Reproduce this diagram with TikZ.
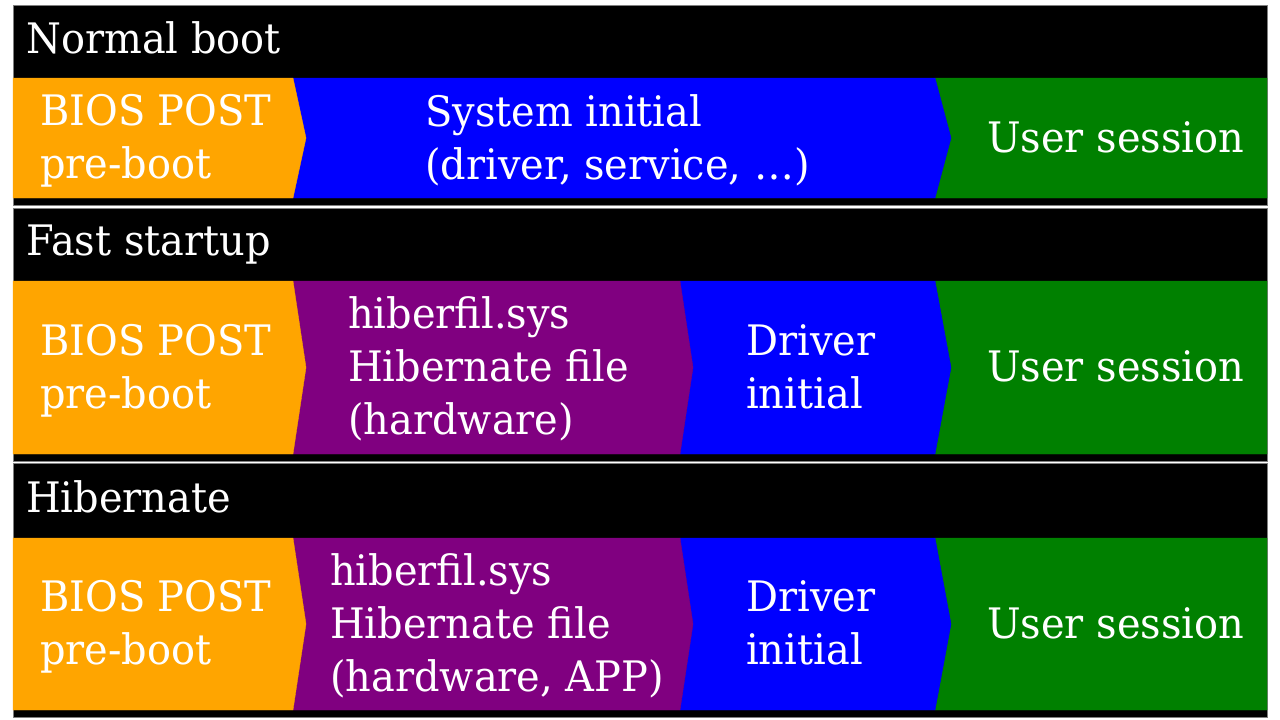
\documentclass[tikz,border=0pt]{standalone}
\usepackage{fontspec}
\setmainfont{DejaVu Serif}[FakeStretch=0.95]
\definecolor{cOrange}{HTML}{FFA500}
\definecolor{cBlue}{HTML}{0000FF}
\definecolor{cGreen}{HTML}{008000}
\definecolor{cPurple}{HTML}{800080}
\definecolor{cFrame}{HTML}{7F7F7F}
\newcommand{\chevshape}[8]{% colour, xl, notch, xr, tip, top, bottom, mid
  \filldraw[#1, line width=0.4pt] (#2,#6) -- (#4,#6) -- (#4+#5,#8) -- (#4,#7) -- (#2,#7) -- (#2+#3,#8) -- cycle;}
\tikzset{
  panelframe/.style={draw=cFrame, fill=black, line width=0.8pt},
  lbl/.style={text=white, inner sep=0pt, anchor=base west, font=\fontsize{42}{53}\selectfont},
}
\begin{document}
\begin{tikzpicture}[x=1pt,y=-1pt]
\useasboundingbox (0,0) rectangle (1280,720);
\fill[white] (0,0) rectangle (1280,720);

% ---------- Panel 1: Normal boot ----------
\draw[panelframe] (13,5) rectangle (1267,205);
\chevshape{cGreen}{935}{16}{1267}{0}{78}{198}{138}
\chevshape{cBlue}{293}{13}{935}{16}{78}{198}{138}
\chevshape{cOrange}{13}{0}{293}{13}{78}{198}{138}
\node[lbl] (t1) at (26,53) {Normal boot};
\node[lbl] (a1) at (40,125.5) {BIOS POST};
\node[lbl] (a1b) at (40,178.5) {pre-boot};
\node[lbl] (b1) at (425,126.5) {System initial};
\node[lbl] (b1b) at (425,179) {(driver, service, …)};
\node[lbl] (c1) at (987,152) {User session};

% ---------- Panel 2: Fast startup ----------
\draw[panelframe] (13,208) rectangle (1267,461);
\chevshape{cGreen}{935}{16}{1267}{0}{281}{454}{367.5}
\chevshape{cBlue}{680}{13}{935}{16}{281}{454}{367.5}
\chevshape{cPurple}{293}{13}{680}{13}{281}{454}{367.5}
\chevshape{cOrange}{13}{0}{293}{13}{281}{454}{367.5}
\node[lbl] (t2) at (26,255) {Fast startup};
\node[lbl] (a2) at (40,355) {BIOS POST};
\node[lbl] (a2b) at (40,408) {pre-boot};
\node[lbl] (p2) at (348,328.5) {hiberfil.sys};
\node[lbl] (p2b) at (348,381.5) {Hibernate file};
\node[lbl] (p2c) at (348,434.5) {(hardware)};
\node[lbl] (d2) at (746,355) {Driver};
\node[lbl] (d2b) at (746,408) {initial};
\node[lbl] (c2) at (987,381.5) {User session};

% ---------- Panel 3: Hibernate ----------
\draw[panelframe] (13,463) rectangle (1267,717);
\chevshape{cGreen}{935}{16}{1267}{0}{538}{710}{624}
\chevshape{cBlue}{680}{13}{935}{16}{538}{710}{624}
\chevshape{cPurple}{293}{13}{680}{13}{538}{710}{624}
\chevshape{cOrange}{13}{0}{293}{13}{538}{710}{624}
\node[lbl] (t3) at (26,512) {Hibernate};
\node[lbl] (a3) at (40,611.5) {BIOS POST};
\node[lbl] (a3b) at (40,664.5) {pre-boot};
\node[lbl] (p3) at (330,585) {hiberfil.sys};
\node[lbl] (p3b) at (330,638) {Hibernate file};
\node[lbl] (p3c) at (330,691) {(hardware, APP)};
\node[lbl] (d3) at (746,611.5) {Driver};
\node[lbl] (d3b) at (746,664.5) {initial};
\node[lbl] (c3) at (987,638) {User session};
\end{tikzpicture}
\end{document}
